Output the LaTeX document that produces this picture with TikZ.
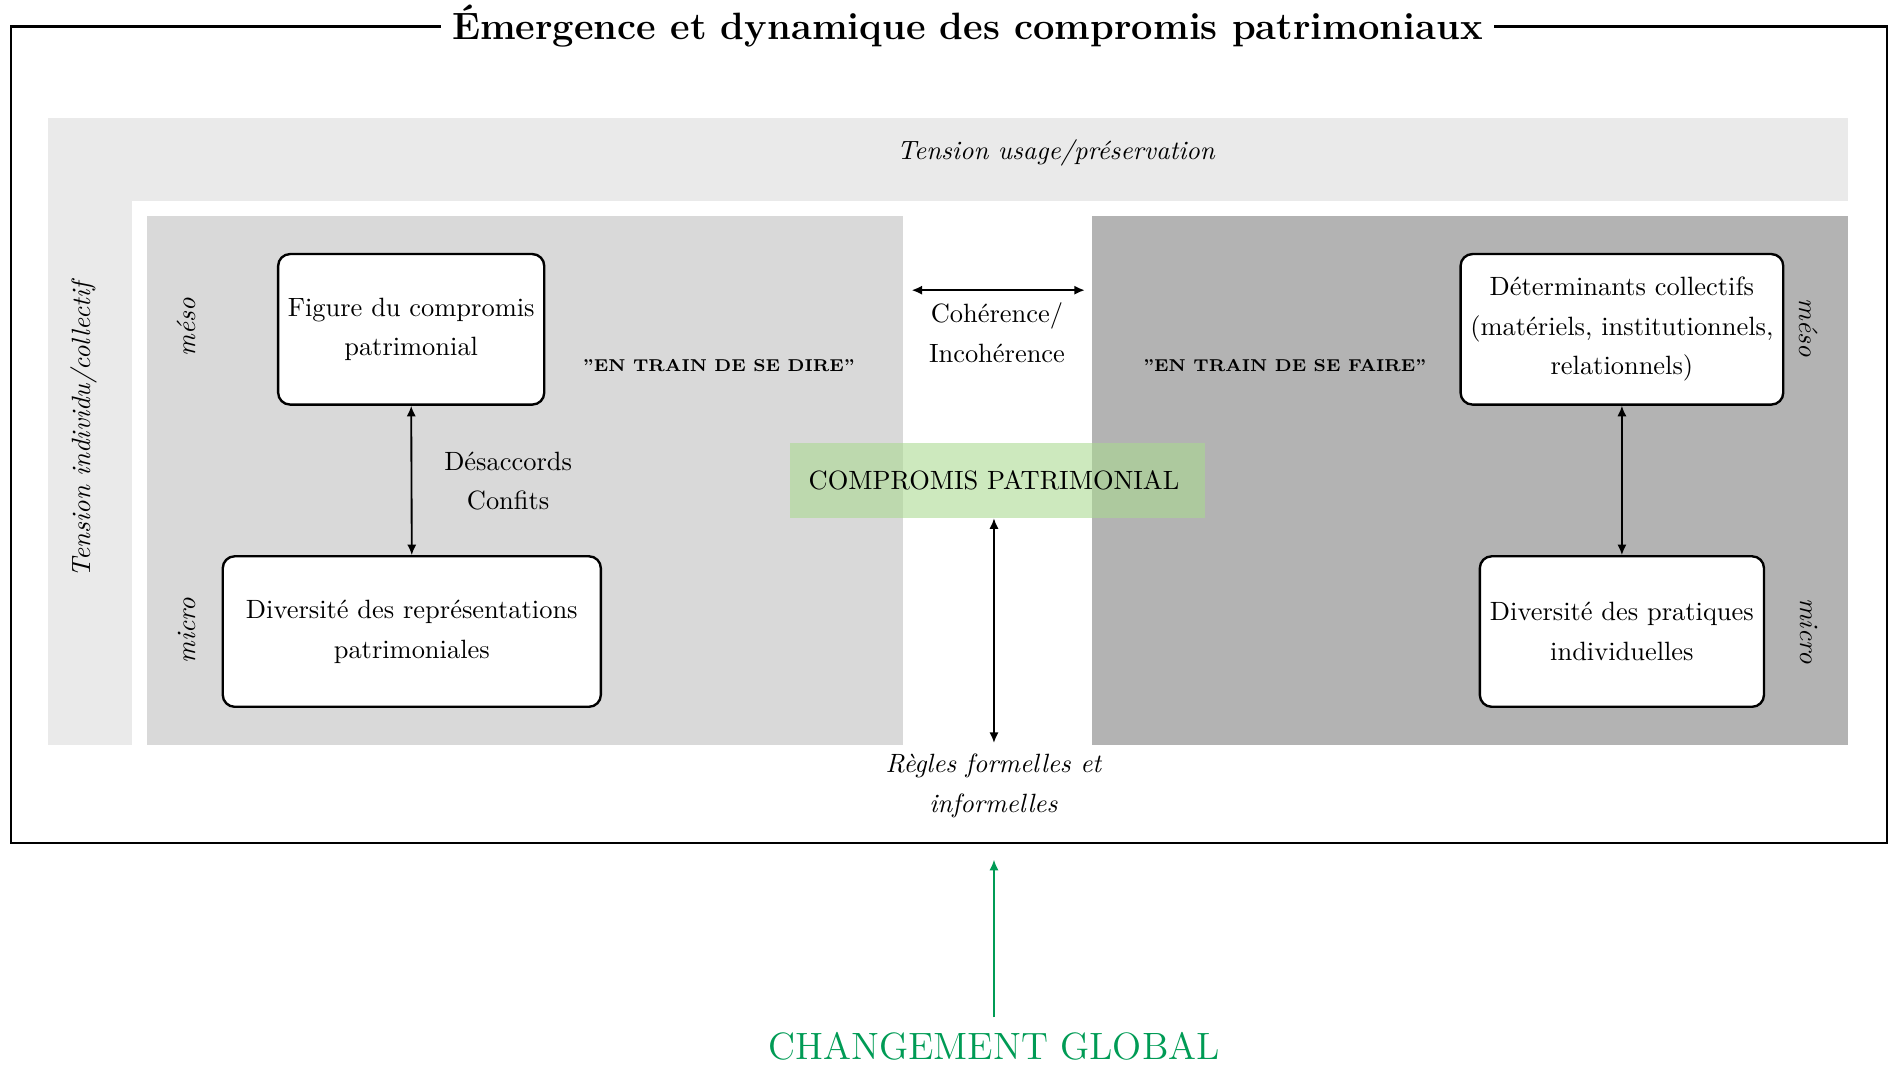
\documentclass[tikz,border=0pt]{standalone}
\usepackage{fontspec}
\usetikzlibrary{arrows.meta}
\definecolor{bandgray}{RGB}{234,234,234}
\definecolor{leftgray}{RGB}{217,217,217}
\definecolor{rightgray}{RGB}{179,179,179}
\definecolor{compgreen}{RGB}{169,217,143}
\definecolor{globgreen}{RGB}{0,155,85}
\newcommand{\sqq}{\char34\relax}
\tikzset{
  box/.style={draw, line width=0.9pt, rounded corners=4.5pt, fill=white, align=center,
    minimum height=125*0.016cm, font=\fontsize{10}{15}\selectfont, inner sep=2pt},
  lvl/.style={font=\itshape\fontsize{10}{15}\selectfont},
  plain/.style={align=center, font=\fontsize{10}{15}\selectfont},
  train/.style={font=\bfseries\fontsize{6.5}{8}\selectfont},
  dbl/.style={{Latex[length=4pt,width=3.5pt]}-{Latex[length=4pt,width=3.5pt]}, line width=0.7pt},
}
\begin{document}
\begin{tikzpicture}[x=0.016cm, y=-0.016cm]
\useasboundingbox (0,0) rectangle (1568,884);
% outer frame
\draw[line width=1pt] (9,22) rectangle (1567,700);
\node[fill=white, inner xsep=4pt, inner ysep=2pt, font=\Large\bfseries] (title) at (803.5,22) {Émergence et dynamique des compromis patrimoniaux};
% bands
\fill[bandgray] (40,98) rectangle (1535,167);
\fill[bandgray] (40,98) rectangle (110,619);
\node[lvl] (tup) at (877,127) {Tension usage/préservation};
\node[lvl, rotate=90] (tic) at (70,357) {Tension individu/collectif};
% panels
\fill[leftgray] (122,179) rectangle (750,619);
\fill[rightgray] (907,179) rectangle (1535,619);
% level labels
\node[lvl, rotate=90] (mesoL) at (155,272) {méso};
\node[lvl, rotate=90] (microL) at (155,524) {micro};
\node[lvl, rotate=-90] (mesoR) at (1502,272) {méso};
\node[lvl, rotate=-90] (microR) at (1502,524) {micro};
% boxes
\node[box, minimum width=221*0.016cm] (A) at (341.5,273.5) {Figure du compromis\\patrimonial};
\node[box, minimum width=314*0.016cm] (B) at (342,524.5) {Diversité des représentations\\patrimoniales};
\node[box, minimum width=268*0.016cm] (C) at (1347,273.5) {Déterminants collectifs\\(matériels, institutionnels,\\relationnels)};
\node[box, minimum width=236*0.016cm] (D) at (1347,524.5) {Diversité des pratiques\\individuelles};
\draw[dbl] (A.south) -- (B.north);
\draw[dbl] (C.south) -- (D.north);
\node[plain] (desac) at (422,399.5) {Désaccords\\Confits};
% train labels
\node[train] (dire) at (597,304) {\sqq EN TRAIN DE SE DIRE\sqq};
\node[train] (faire) at (1067,304) {\sqq EN TRAIN DE SE FAIRE\sqq};
% coherence
\coordinate (cohL) at (757,241);
\coordinate (cohR) at (901,241);
\draw[dbl, line width=0.9pt] (cohL) -- (cohR);
\node[plain] (coh) at (828,276.5) {Cohérence/\\Incohérence};
% compromis
\node[fill=compgreen, fill opacity=0.58, text opacity=1, minimum width=345*0.016cm, minimum height=62*0.016cm, inner sep=0pt, font=\fontsize{10}{12}\selectfont] (G) at (828.5,399) {COMPROMIS PATRIMONIAL\hspace*{2.7pt}};
\coordinate (rulesTop) at (825.5,617);
\draw[dbl] (G.south -| rulesTop) -- (rulesTop);
\node[lvl, align=center] (rules) at (825,652.5) {Règles formelles et\\informelles};
% global change
\node[text=globgreen, font=\Large, inner xsep=2pt, inner ysep=5.5pt] (CG) at (825.5,869) {CHANGEMENT GLOBAL};
\coordinate (frameHit) at (825.5,714);
\draw[globgreen, line width=0.7pt, -{Latex[length=4pt,width=3.5pt]}] (CG.north) -- (frameHit);
\end{tikzpicture}
\end{document}
